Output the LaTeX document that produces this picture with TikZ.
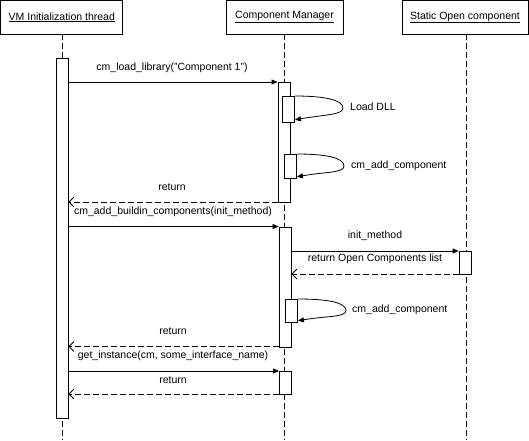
\documentclass[tikz,border=0pt]{standalone}
\usepackage{fontspec}
\setmainfont{Liberation Sans}
\usetikzlibrary{arrows.meta,calc}
\begin{document}
\begin{tikzpicture}[x=1pt,y=-1pt,
  every node/.style={font=\fontsize{10.5}{12}\selectfont, inner sep=0pt},
  head/.style={draw, line width=0.9pt, minimum height=33.5pt, fill=white},
  life/.style={line width=0.8pt, dash pattern=on 6pt off 3pt},
  act/.style={draw, line width=0.8pt, fill=white, minimum width=12pt, anchor=north},
  call/.style={line width=0.8pt, -{Triangle[length=6pt,width=5pt]}},
  ret/.style={line width=0.8pt, dash pattern=on 6pt off 3pt, -{Straight Barb[length=5pt,width=10pt]}},
  self/.style={line width=0.8pt, -{Triangle[length=6pt,width=5pt]}},
  lbl/.style={anchor=center}
]
\useasboundingbox (0,0) rectangle (529,440);
% headers
\node[head, minimum width=122pt] (vm) at (61.8,17.3) {\underline{VM Initialization thread}};
\node[head, minimum width=117pt] (cm) at (284.5,17.3) {\underline{Component Manager}};
\node[head, minimum width=126pt] (so) at (465,17.3) {\underline{Static Open component}};
\coordinate (bottom) at (0,440);
% lifelines
\draw[life] (62,34) coordinate (vmt) -- (vmt |- bottom);
\draw[life] (284,34) coordinate (cmt) -- (cmt |- bottom);
\draw[life] (466,34) coordinate (sot) -- (sot |- bottom);
% activations
\node[act, minimum height=360pt] (vmA) at (62,58) {};
\node[act, minimum height=120pt] (cmA1) at (284,82) {};
\node[act, minimum height=26pt] (sb1) at (288.5,96) {};
\node[act, minimum height=24pt] (sb2) at (290.5,154) {};
\node[act, minimum height=120pt] (cmA2) at (285,226.5) {};
\node[act, minimum height=23pt] (soA) at (465,251) {};
\node[act, minimum height=23pt] (sb3) at (291.5,299) {};
\node[act, minimum height=23pt] (cmA3) at (285.5,371) {};
% message rows
\coordinate (m1) at (0,82);
\coordinate (m2) at (0,202);
\coordinate (m3) at (0,226.5);
\coordinate (m4) at (0,251);
\coordinate (m5) at (0,274);
\coordinate (m6) at (0,346.5);
\coordinate (m7) at (0,371);
\coordinate (m8) at (0,394);
% messages
\draw[call] (vmA.east |- m1) -- (cmA1.west |- m1);
\node[lbl] (t1) at (172,68) {cm\_load\_library("Component 1")};
\draw[ret] (cmA1.west |- m2) -- (vmA.east |- m2);
\node[lbl] (t2) at (172,187) {return};
\draw[call] (vmA.east |- m3) -- (cmA2.west |- m3);
\node[lbl] (t3) at (173,212) {cm\_add\_buildin\_components(init\_method)};
\draw[call] (cmA2.east |- m4) -- (soA.west |- m4);
\node[lbl] (t4) at (375,236) {init\_method};
\draw[ret] (soA.west |- m5) -- (cmA2.east |- m5);
\node[lbl] (t5) at (375,259) {return Open Components list};
\draw[ret] (cmA2.west |- m6) -- (vmA.east |- m6);
\node[lbl] (t6) at (173,331) {return};
\draw[call] (vmA.east |- m7) -- (cmA3.west |- m7);
\node[lbl] (t7) at (173,356) {get\_instance(cm, some\_interface\_name)};
\draw[ret] (cmA3.west |- m8) -- (vmA.east |- m8);
\node[lbl] (t8) at (173,380) {return};
% self calls
\coordinate (k1) at (343,108);
\coordinate (k2) at (344,166);
\coordinate (k3) at (346,310.5);
\draw[self] (sb1.north east) .. controls +(30,0) and +(0,-8) .. (k1)
  .. controls +(0,7) and +(28,-5) .. ($(sb1.south east)+(0,-3)$);
\node[anchor=west] (s1) at (350,107) {Load DLL};
\draw[self] (sb2.north east) .. controls +(30,0) and +(0,-8) .. (k2)
  .. controls +(0,7) and +(28,-5) .. ($(sb2.south east)+(0,-2)$);
\node[anchor=west] (s2) at (351,166) {cm\_add\_component};
\draw[self] (sb3.north east) .. controls +(30,0) and +(0,-8) .. (k3)
  .. controls +(0,7) and +(28,-5) .. ($(sb3.south east)+(0,-2)$);
\node[anchor=west] (s3) at (352,310) {cm\_add\_component};
\end{tikzpicture}
\end{document}
